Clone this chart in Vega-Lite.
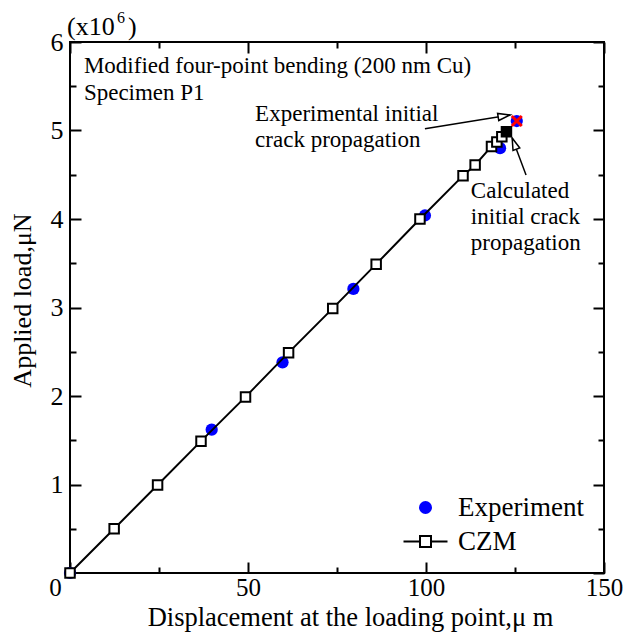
{
  "$schema": "https://vega.github.io/schema/vega-lite/v6.json",
  "width": 534,
  "height": 531,
  "autosize": {"type": "none"},
  "padding": {"left": 70, "top": 42, "right": 21, "bottom": 62},
  "background": "white",
  "config": {
    "view": {"stroke": "black", "strokeWidth": 2},
    "font": "Liberation Serif",
    "axis": {
      "grid": false, "domain": false, "tickColor": "black", "tickWidth": 2,
      "labelFont": "Liberation Serif", "labelFontSize": 26, "labelColor": "black",
      "titleFont": "Liberation Serif", "titleFontSize": 26, "titleFontWeight": "normal", "titleColor": "black",
      "labelOverlap": false, "labelFlush": false, "labelBound": false
    },
    "text": {"font": "Liberation Serif", "color": "black"}
  },
  "datasets": {
    "exp": [
      {"series": "Experiment", "x": 0, "y": 0},
      {"series": "Experiment", "x": 39.8, "y": 1.62},
      {"series": "Experiment", "x": 59.7, "y": 2.38},
      {"series": "Experiment", "x": 79.6, "y": 3.21},
      {"series": "Experiment", "x": 99.7, "y": 4.04},
      {"series": "Experiment", "x": 120.8, "y": 4.8},
      {"series": "Experiment", "x": 125.5, "y": 5.107}
    ],
    "czm": [
      {"series": "CZM", "kind": "model", "x": 0, "y": 0},
      {"series": "CZM", "kind": "model", "x": 12.4, "y": 0.5},
      {"series": "CZM", "kind": "model", "x": 24.6, "y": 0.995},
      {"series": "CZM", "kind": "model", "x": 36.8, "y": 1.49},
      {"series": "CZM", "kind": "model", "x": 49.3, "y": 1.99},
      {"series": "CZM", "kind": "model", "x": 61.4, "y": 2.49},
      {"series": "CZM", "kind": "model", "x": 73.8, "y": 2.99},
      {"series": "CZM", "kind": "model", "x": 86.0, "y": 3.49},
      {"series": "CZM", "kind": "model", "x": 98.3, "y": 4.0},
      {"series": "CZM", "kind": "model", "x": 110.4, "y": 4.49},
      {"series": "CZM", "kind": "model", "x": 113.8, "y": 4.61},
      {"series": "CZM", "kind": "model", "x": 118.4, "y": 4.82},
      {"series": "CZM", "kind": "model", "x": 119.9, "y": 4.87},
      {"series": "CZM", "kind": "model", "x": 121.3, "y": 4.93},
      {"series": "CZM", "kind": "calc", "x": 122.6, "y": 4.985}
    ],
    "legendKeys": [
      {"series": "Experiment"},
      {"series": "CZM"}
    ],
    "expInit": [{"x": 125.5, "y": 5.107}],
    "arrows": [
      {"name": "exp", "x": 99.7, "y": 5.02, "x2": 123.6, "y2": 5.175},
      {"name": "calc", "x": 128.1, "y": 4.497, "x2": 124.2, "y2": 4.915}
    ],
    "notes": [
      {"text": "Modified four-point bending (200 nm Cu)", "x": 3.9, "y": 5.65},
      {"text": "Specimen P1", "x": 3.9, "y": 5.345},
      {"text": "Experimental initial", "x": 52.0, "y": 5.107},
      {"text": "crack propagation", "x": 52.0, "y": 4.814},
      {"text": "Calculated", "x": 112.6, "y": 4.237},
      {"text": "initial crack", "x": 112.6, "y": 3.944},
      {"text": "propagation", "x": 112.6, "y": 3.65}
    ],
    "scaleBig": [
      {"text": "(x10", "x": -0.84, "y": 6.08},
      {"text": ")", "x": 16.3, "y": 6.08}
    ],
    "scaleSup": [{"text": "6", "x": 13.2, "y": 6.215}]
  },
  "resolve": {"axis": {"x": "independent", "y": "independent"}},
  "layer": [
    {
      "data": {"name": "exp"},
      "mark": {"type": "point", "filled": true, "fill": "#0000ff", "size": 150, "opacity": 1, "shape": "circle"},
      "encoding": {
        "x": {"field": "x", "type": "quantitative", "scale": {"domain": [0, 150], "nice": false},
          "axis": {"orient": "bottom", "values": [0, 50, 100, 150], "tickSize": -11, "labelPadding": 13, "labelFontSize": 25,
            "labelOffset": {"condition": {"test": "datum.value === 0", "value": -15}, "value": 0},
            "title": "Displacement at the loading point,μ m", "titleFontSize": 26.5, "titlePadding": 4, "titleX": 280}},
        "y": {"field": "y", "type": "quantitative", "scale": {"domain": [0, 6], "nice": false},
          "axis": {"orient": "left", "values": [1, 2, 3, 4, 5, 6], "tickSize": -11, "labelPadding": 18,
            "title": "Applied load,μN", "titlePadding": 15, "titleY": 258}}
      }
    },
    {
      "data": {"name": "legendKeys"},
      "transform": [{"filter": "false"}],
      "mark": {"type": "point", "filled": true, "size": 400, "strokeWidth": 2, "opacity": 1},
      "encoding": {
        "shape": {"field": "series", "type": "nominal",
          "scale": {"domain": ["Experiment", "CZM"], "range": ["M-0.55,0A0.55,0.55,0,1,0,0.55,0A0.55,0.55,0,1,0,-0.55,0Z", "M-2.2,0H-0.55M0.55,0H2.2M-0.55,-0.55H0.55V0.55H-0.55Z"]},
          "legend": {"orient": "none", "legendX": 342, "legendY": 452, "title": null,
            "labelFontSize": 27, "labelFont": "Liberation Serif", "labelColor": "black",
            "labelOffset": 19, "rowPadding": 6, "symbolSize": 400, "symbolStrokeWidth": 2, "symbolOpacity": 1}},
        "fill": {"field": "series", "type": "nominal",
          "scale": {"domain": ["Experiment", "CZM"], "range": ["#0000ff", "#ffffff"]},
          "legend": {"orient": "none", "legendX": 342, "legendY": 452, "title": null,
            "labelFontSize": 27, "labelFont": "Liberation Serif", "labelColor": "black",
            "labelOffset": 19, "rowPadding": 6, "symbolSize": 400, "symbolStrokeWidth": 2, "symbolOpacity": 1}},
        "stroke": {"field": "series", "type": "nominal",
          "scale": {"domain": ["Experiment", "CZM"], "range": ["#0000ff", "#000000"]},
          "legend": {"orient": "none", "legendX": 342, "legendY": 452, "title": null,
            "labelFontSize": 27, "labelFont": "Liberation Serif", "labelColor": "black",
            "labelOffset": 19, "rowPadding": 6, "symbolSize": 400, "symbolStrokeWidth": 2, "symbolOpacity": 1}}
      }
    },
    {
      "data": {"name": "czm"},
      "mark": {"type": "line", "color": "black", "strokeWidth": 2},
      "encoding": {
        "x": {"field": "x", "type": "quantitative", "scale": {"domain": [0, 150], "nice": false},
          "axis": {"orient": "bottom", "values": [25, 75, 125], "tickSize": -6, "labels": false, "title": null}},
        "y": {"field": "y", "type": "quantitative", "scale": {"domain": [0, 6], "nice": false},
          "axis": {"orient": "left", "values": [0.5, 1.5, 2.5, 3.5, 4.5, 5.5], "tickSize": -6, "labels": false, "title": null}}
      }
    },
    {
      "data": {"name": "czm"},
      "transform": [{"filter": "datum.kind === 'model'"}],
      "mark": {"type": "point", "shape": "square", "filled": true, "fill": "white", "stroke": "black", "strokeWidth": 2, "size": 90, "opacity": 1},
      "encoding": {
        "x": {"field": "x", "type": "quantitative", "scale": {"domain": [0, 150], "nice": false},
          "axis": {"orient": "top", "values": [0, 50, 100, 150], "tickSize": -11, "labels": false, "title": null}},
        "y": {"field": "y", "type": "quantitative", "scale": {"domain": [0, 6], "nice": false},
          "axis": {"orient": "right", "values": [0, 1, 2, 3, 4, 5, 6], "tickSize": -11, "labels": false, "title": null}}
      }
    },
    {
      "data": {"name": "czm"},
      "transform": [{"filter": "datum.kind === 'calc'"}],
      "mark": {"type": "point", "shape": "square", "filled": true, "fill": "black", "stroke": "black", "strokeWidth": 2, "size": 90, "opacity": 1},
      "encoding": {
        "x": {"field": "x", "type": "quantitative", "scale": {"domain": [0, 150], "nice": false},
          "axis": {"orient": "top", "values": [25, 75, 125], "tickSize": -6, "labels": false, "title": null}},
        "y": {"field": "y", "type": "quantitative", "scale": {"domain": [0, 6], "nice": false},
          "axis": {"orient": "right", "values": [0.5, 1.5, 2.5, 3.5, 4.5, 5.5], "tickSize": -6, "labels": false, "title": null}}
      }
    },
    {
      "data": {"name": "expInit"},
      "mark": {"type": "point", "shape": "M-1,-1L1,1M1,-1L-1,1", "filled": false, "stroke": "#ff0000", "strokeWidth": 3, "size": 100, "opacity": 1},
      "encoding": {
        "x": {"field": "x", "type": "quantitative", "scale": {"domain": [0, 150], "nice": false}, "axis": null},
        "y": {"field": "y", "type": "quantitative", "scale": {"domain": [0, 6], "nice": false}, "axis": null}
      }
    },
    {
      "data": {"name": "arrows"},
      "mark": {"type": "rule", "color": "black", "strokeWidth": 1.5},
      "encoding": {
        "x": {"field": "x", "type": "quantitative", "scale": {"domain": [0, 150], "nice": false}, "axis": null},
        "y": {"field": "y", "type": "quantitative", "scale": {"domain": [0, 6], "nice": false}, "axis": null},
        "x2": {"field": "x2"},
        "y2": {"field": "y2"}
      }
    },
    {
      "data": {"name": "arrows"},
      "transform": [{"filter": "datum.name === 'exp'"}],
      "mark": {"type": "point", "shape": "M0,0L0.3,1L-0.3,1Z", "angle": 80.6, "filled": true, "fill": "white", "stroke": "black", "strokeWidth": 1.5, "size": 576, "opacity": 1},
      "encoding": {
        "x": {"field": "x2", "type": "quantitative", "scale": {"domain": [0, 150], "nice": false}, "axis": null},
        "y": {"field": "y2", "type": "quantitative", "scale": {"domain": [0, 6], "nice": false}, "axis": null}
      }
    },
    {
      "data": {"name": "arrows"},
      "transform": [{"filter": "datum.name === 'calc'"}],
      "mark": {"type": "point", "shape": "M0,0L0.3,1L-0.3,1Z", "angle": 339.3, "filled": true, "fill": "white", "stroke": "black", "strokeWidth": 1.5, "size": 576, "opacity": 1},
      "encoding": {
        "x": {"field": "x2", "type": "quantitative", "scale": {"domain": [0, 150], "nice": false}, "axis": null},
        "y": {"field": "y2", "type": "quantitative", "scale": {"domain": [0, 6], "nice": false}, "axis": null}
      }
    },
    {
      "data": {"name": "notes"},
      "mark": {"type": "text", "align": "left", "baseline": "alphabetic", "fontSize": 23, "font": "Liberation Serif", "color": "black"},
      "encoding": {
        "x": {"field": "x", "type": "quantitative", "scale": {"domain": [0, 150], "nice": false}, "axis": null},
        "y": {"field": "y", "type": "quantitative", "scale": {"domain": [0, 6], "nice": false}, "axis": null},
        "text": {"field": "text"}
      }
    },
    {
      "data": {"name": "scaleBig"},
      "mark": {"type": "text", "align": "left", "baseline": "alphabetic", "fontSize": 26, "font": "Liberation Serif", "color": "black"},
      "encoding": {
        "x": {"field": "x", "type": "quantitative", "scale": {"domain": [0, 150], "nice": false}, "axis": null},
        "y": {"field": "y", "type": "quantitative", "scale": {"domain": [0, 6], "nice": false}, "axis": null},
        "text": {"field": "text"}
      }
    },
    {
      "data": {"name": "scaleSup"},
      "mark": {"type": "text", "align": "left", "baseline": "alphabetic", "fontSize": 16, "font": "Liberation Serif", "color": "black"},
      "encoding": {
        "x": {"field": "x", "type": "quantitative", "scale": {"domain": [0, 150], "nice": false}, "axis": null},
        "y": {"field": "y", "type": "quantitative", "scale": {"domain": [0, 6], "nice": false}, "axis": null},
        "text": {"field": "text"}
      }
    }
  ]
}
